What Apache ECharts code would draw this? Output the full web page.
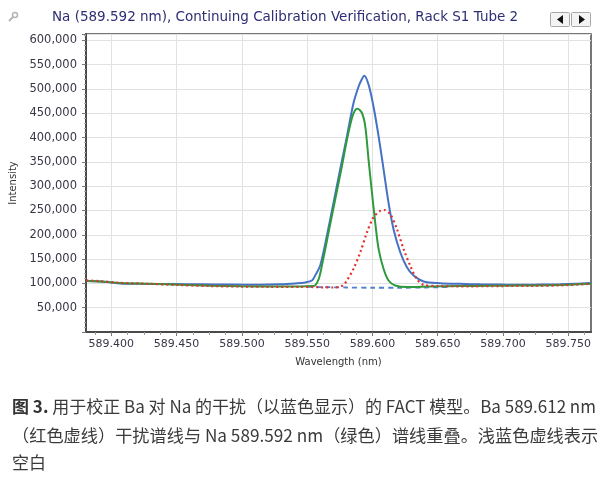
<!DOCTYPE html>
<html>
<head>
<meta charset="utf-8">
<script src="https://cdn.jsdelivr.net/npm/echarts@6/dist/echarts.min.js"></script>
<style>
html,body{margin:0;padding:0;background:#fff;}
#c{width:608px;height:483px;}
</style>
</head>
<body>
<div id="c"></div>
<script>
// ---- data (wavelength nm, intensity) ----
var sampleSpectrum = [
[589.3809,105000],[589.3916,104000],[589.3992,102000],[589.4069,100000],[589.4222,99000],
[589.4452,98500],[589.4681,98000],[589.4911,97500],[589.5141,97000],[589.5294,98000],
[589.5409,100000],[589.5485,102000],[589.5537,106000],[589.5565,118000],[589.5600,136600],
[589.5651,198000],[589.5702,266000],[589.5753,335000],[589.5805,403000],[589.5855,471000],
[589.5894,505000],[589.5915,518000],[589.5937,527000],[589.5970,509000],[589.6008,464000],
[589.6047,403000],[589.6085,335000],[589.6123,266000],[589.6161,212000],[589.6213,164000],
[589.6264,133000],[589.6315,116000],[589.6391,104000],[589.6519,100500],[589.6672,99000],
[589.6825,98000],[589.6979,97500],[589.7130,97000],[589.7285,97500],[589.7438,98000],
[589.7553,99000],[589.7674,101000]
];
var naSpectrum = [
[589.3809,105000],[589.3916,104000],[589.4069,101000],[589.4299,99000],[589.4528,97000],
[589.4758,95000],[589.4988,94000],[589.5217,93500],[589.5447,93500],[589.5539,94500],
[589.5562,96000],[589.5590,110000],[589.5613,136600],[589.5664,205000],[589.5715,273000],
[589.5766,341000],[589.5805,396000],[589.5843,440000],[589.5865,455000],[589.5886,459000],
[589.5919,451000],[589.5945,423000],[589.5970,355000],[589.5996,287000],[589.6021,225500],
[589.6047,171000],[589.6085,130000],[589.6123,106000],[589.6174,95700],[589.6264,92400],
[589.6442,93600],[589.6672,94500],[589.6902,95000],[589.7132,95500],[589.7362,96000],
[589.7515,97000],[589.7674,99000]
];
var baSpectrum = [
[589.3809,106000],[589.3916,104500],[589.4069,101000],[589.4299,99000],[589.4528,96500],
[589.4758,94500],[589.4988,93500],[589.5217,93000],[589.5447,93000],[589.5600,92000],
[589.5700,91500],[589.5760,94000],[589.5785,99000],[589.5805,106000],[589.5855,130000],
[589.5907,164000],[589.5958,205000],[589.6008,236000],[589.6059,249000],[589.6090,251000],
[589.6136,242500],[589.6187,212000],[589.6238,171000],[589.6289,136600],[589.6340,109000],
[589.6391,97000],[589.6519,94500],[589.6749,94000],[589.6979,94500],[589.7209,95000],
[589.7438,96000],[589.7674,99000]
];
var blankSpectrum = [
[589.5500,93000],[589.5600,92500],[589.5700,92000],[589.5800,91500],[589.6000,91000],
[589.6200,91000],[589.6400,91500],[589.6600,92500]
];
var xMajorTicks = [589.400,589.450,589.500,589.550,589.600,589.650,589.700,589.750];
var xMinorTicks = [589.3875,589.4125,589.425,589.4375,589.4625,589.475,589.4875,589.5125,589.525,589.5375,
589.5625,589.575,589.5875,589.6125,589.625,589.6375,589.6625,589.675,589.6875,589.7125,589.725,589.7375,589.7625];
var xRange = [589.3806, 589.7674];
var yRange = [0, 613000];

var titleText = 'Na (589.592 nm), Continuing Calibration Verification, Rack S1 Tube 2';
var captionLine1 = ['图 3.', ' 用于校正 Ba 对 Na 的干扰（以蓝色显示）的 FACT 模型。Ba 589.612 nm'];
var captionLine2 = '（红色虚线）干扰谱线与 Na 589.592 nm（绿色）谱线重叠。浅蓝色虚线表示';
var captionLine3 = '空白';

var chart = echarts.init(document.getElementById('c'), null, {renderer:'canvas'});
var labelColor = '#3b3548';
var font = 'DejaVu Sans';
var cjk = '"Noto Sans CJK SC"';

var option = {
  backgroundColor: '#fff',
  animation: false,
  grid: {left: 86, right: 17, top: 34, bottom: 151, show: true, borderColor: '#4a4a4a', borderWidth: 1.5, backgroundColor:'#fff'},
  xAxis: [{
    type: 'value', min: xRange[0], max: xRange[1],
    name: 'Wavelength (nm)', nameLocation: 'middle', nameGap: 25,
    nameTextStyle: {fontFamily: font, fontSize: 10, color: '#333'},
    axisLine: {show: true, onZero: false, lineStyle: {color: '#4a4a4a', width: 2}},
    axisTick: {show: true, customValues: xMajorTicks, length: 4, lineStyle: {color: '#777'}},
    axisLabel: {customValues: xMajorTicks, formatter: function(v){return v.toFixed(3);}, fontFamily: font, fontSize: 11, color: labelColor, margin: 7},
    splitLine: {show: true, lineStyle: {color: '#e2e2e2', width: 1}}
  },{
    type: 'value', min: xRange[0], max: xRange[1], position: 'bottom',
    axisLine: {show: false},
    axisTick: {show: true, customValues: xMinorTicks, length: 3, lineStyle: {color: '#999'}},
    axisLabel: {show: false},
    splitLine: {show: false}
  }],
  yAxis: {
    type: 'value', min: yRange[0], max: yRange[1], interval: 50000,
    name: 'Intensity', nameLocation: 'middle', nameGap: 64,
    nameTextStyle: {fontFamily: font, fontSize: 10, color: '#333'},
    axisLine: {show: true, lineStyle: {color: '#4a4a4a', width: 2}},
    axisTick: {show: true, length: 4, lineStyle: {color: '#777'}},
    minorTick: {show: true, splitNumber: 5, length: 2, lineStyle: {color: '#aaa'}},
    axisLabel: {fontFamily: font, fontSize: 11.5, color: labelColor, margin: 9,
      formatter: function(v){ if (v === 0 || v % 50000 !== 0) return ''; return v.toLocaleString('en-US'); }},
    splitLine: {show: true, lineStyle: {color: '#e2e2e2', width: 1}}
  },
  series: [
    {name:'blank', type:'line', data: blankSpectrum, showSymbol:false, smooth:0.3,
     lineStyle:{color:'#4f7fd2', width:1.8, type:[5,4]}},
    {name:'sample', type:'line', data: sampleSpectrum, showSymbol:false, smooth:0.3,
     lineStyle:{color:'#4472c4', width:2}},
    {name:'Na', type:'line', data: naSpectrum, showSymbol:false, smooth:0.3,
     lineStyle:{color:'#2e9a3c', width:2}},
    {name:'Ba', type:'line', data: baSpectrum, showSymbol:false, smooth:0.3,
     lineStyle:{color:'#e3312d', width:2.2, type:[2,3]}}
  ],
  graphic: [
    {type:'text', left: 52, top: 10, style:{text: titleText, fontFamily: font, fontSize: 13.5, fill:'#2e2e74'}},
    // magnifier icon
    {type:'circle', shape:{cx:15, cy:15, r:2.5}, style:{fill:'none', stroke:'#b5b5b5', lineWidth:1.5}},
    {type:'line', shape:{x1:13, y1:17, x2:9, y2:21}, style:{stroke:'#b5b5b5', lineWidth:2}},
    // nav buttons
    {type:'rect', shape:{x:550.5, y:12.5, width:19, height:14, r:1}, style:{fill:'#f4f4f4', stroke:'#a8a8a8', lineWidth:1}},
    {type:'rect', shape:{x:571.5, y:12.5, width:19, height:14, r:1}, style:{fill:'#f4f4f4', stroke:'#a8a8a8', lineWidth:1}},
    {type:'polygon', shape:{points:[[563,15],[563,24],[557,19.5]]}, style:{fill:'#111'}},
    {type:'polygon', shape:{points:[[579,15],[579,24],[585,19.5]]}, style:{fill:'#111'}},
    // caption
    {type:'text', left: 12, top: 398, style:{
      text: '{b|' + captionLine1[0] + '}{n|' + captionLine1[1] + '}',
      rich:{ b:{fontFamily: cjk, fontSize:17, fontWeight:'bold', fill:'#333'},
             n:{fontFamily: cjk, fontSize:17, fill:'#3a3a3a'} }}},
    {type:'text', left: 12, top: 427, style:{text: captionLine2, fontFamily: cjk, fontSize:17.2, fill:'#3a3a3a'}},
    {type:'text', left: 12, top: 454, style:{text: captionLine3, fontFamily: cjk, fontSize:17, fill:'#3a3a3a'}}
  ]
};
chart.setOption(option);
</script>
</body>
</html>
